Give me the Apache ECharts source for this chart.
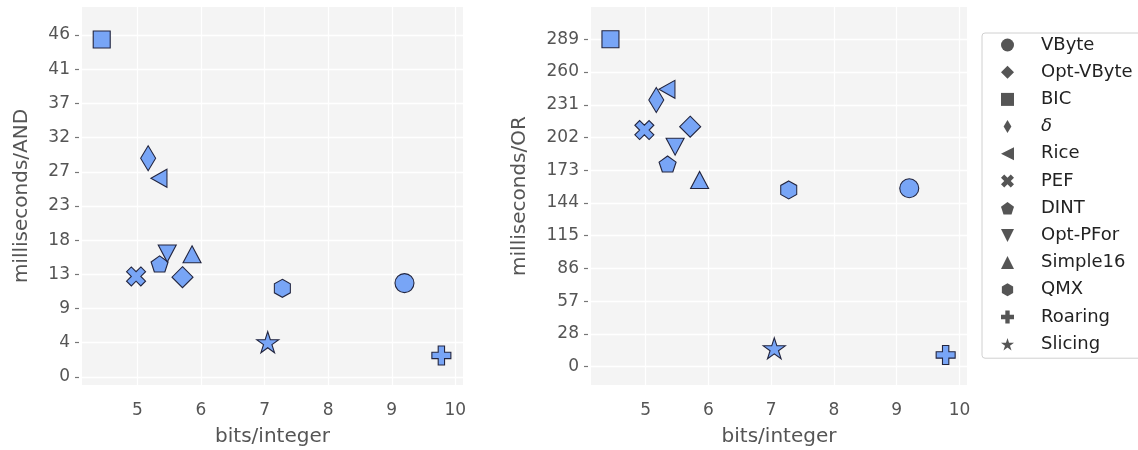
<!DOCTYPE html>
<html>
<head>
<meta charset="utf-8">
<script src="https://cdn.jsdelivr.net/npm/echarts@6/dist/echarts.min.js"></script>
<style>
  html, body { margin: 0; padding: 0; background: #fff; }
  #chart { width: 1138px; height: 450px; }
</style>
</head>
<body>
<div id="chart"></div>
<script>
// data
const methods = ['VByte', 'Opt-VByte', 'BIC', 'δ', 'Rice', 'PEF', 'DINT', 'Opt-PFor', 'Simple16', 'QMX', 'Roaring', 'Slicing']
const bitsPerInt = [9.2, 5.71, 4.44, 5.17, 5.34, 4.98, 5.35, 5.47, 5.86, 7.28, 9.78, 7.05]
const msAnd = [12.7, 13.5, 45.7, 29.6, 26.9, 13.6, 15.3, 16.7, 16.6, 12.0, 2.9, 4.7]
const msOr = [157.5, 211.8, 289, 235.4, 244.8, 208.9, 178.9, 194.2, 164.8, 156, 10.3, 16.2]

// ticks
const xTicks = [5, 6, 7, 8, 9, 10]
const andTicks = [0, 4.63, 9.26, 13.89, 18.52, 23.15, 27.78, 32.41, 37.04, 41.67, 46.3]
const andTickLabels = ['0', '4', '9', '13', '18', '23', '27', '32', '37', '41', '46']
const orTicks = [0, 28.9, 57.8, 86.7, 115.6, 144.5, 173.4, 202.3, 231.2, 260.1, 289]
const orTickLabels = ['0', '28', '57', '86', '115', '144', '173', '202', '231', '260', '289']

// marker shapes (style only)
const shapes = {
    'VByte': { symbol: 'circle', size: 19 },
    'Opt-VByte': { symbol: 'diamond', size: [21, 21] },
    'BIC': { symbol: 'rect', size: 17 },
    'δ': { symbol: 'path://M30,0 L60,50 L30,100 L0,50 Z', size: [15, 25] },
    'Rice': { symbol: 'path://M0,50 L100,0 L100,100 Z', size: [16, 18] },
    'PEF': { symbol: 'path://M73.6,2.9 L97.1,26.4 L73.6,50 L97.1,73.6 L73.6,97.1 L50,73.6 L26.4,97.1 L2.9,73.6 L26.4,50 L2.9,26.4 L26.4,2.9 L50,26.4 Z', size: 19 },
    'DINT': { symbol: 'path://M50,0 L97.6,34.5 L79.4,90.5 L20.6,90.5 L2.4,34.5 Z', size: [17, 16] },
    'Opt-PFor': { symbol: 'path://M0,0 L100,0 L50,100 Z', size: [18, 17] },
    'Simple16': { symbol: 'triangle', size: [18, 17] },
    'QMX': { symbol: 'path://M50,0 L93.3,25 L93.3,75 L50,100 L6.7,75 L6.7,25 Z', size: [16, 18] },
    'Roaring': { symbol: 'path://M33.3,0 H66.7 V33.3 H100 V66.7 H66.7 V100 H33.3 V66.7 H0 V33.3 H33.3 Z', size: 19 },
    'Slicing': { symbol: 'path://M50,0 L61.2,34.5 L97.6,34.5 L68.2,55.9 L79.4,90.5 L50,69.1 L20.6,90.5 L31.8,55.9 L2.4,34.5 L38.8,34.5 Z', size: [22, 21] }
}

const font = 'DejaVu Sans'
const tickGray = '#555'

// white grid lines drawn under the markers
function gridLines(yTicks, gridIdx) {
    return {
        type: 'scatter',
        xAxisIndex: gridIdx,
        yAxisIndex: gridIdx,
        data: [],
        z: 1,
        silent: true,
        markLine: {
            silent: true,
            z: 1,
            symbol: 'none',
            label: { show: false },
            lineStyle: { color: '#ffffff', width: 1.3, type: 'solid' },
            emphasis: { disabled: true },
            data: yTicks.map(v => ({ yAxis: v })).concat(xTicks.map(v => ({ xAxis: v })))
        }
    }
}

function xAxisFor(gridIdx) {
    return {
        type: 'value',
        gridIndex: gridIdx,
        min: 4.13,
        max: 10.12,
        name: 'bits/integer',
        nameLocation: 'middle',
        nameGap: 39,
        nameTextStyle: { fontFamily: font, fontSize: 20, color: tickGray },
        offset: 3,
        axisLine: { show: false },
        axisTick: { show: true, length: 5, customValues: xTicks, lineStyle: { color: '#777', width: 1 } },
        axisLabel: { customValues: xTicks, margin: 14, fontFamily: font, fontSize: 17, color: tickGray },
        splitLine: { show: false }
    }
}

function yAxisFor(gridIdx, min, max, ticks, labels, name, gap) {
    return {
        type: 'value',
        gridIndex: gridIdx,
        min: min,
        max: max,
        name: name,
        nameLocation: 'middle',
        nameGap: gap,
        nameTextStyle: { fontFamily: font, fontSize: 20, color: tickGray },
        offset: 3,
        axisLine: { show: false },
        axisTick: { show: true, length: 4, customValues: ticks, lineStyle: { color: '#777', width: 1.2 } },
        axisLabel: {
            customValues: ticks,
            margin: 9,
            fontFamily: font,
            fontSize: 17,
            color: tickGray,
            formatter: v => {
                const i = ticks.findIndex(t => Math.abs(t - v) < 1e-6)
                return i >= 0 ? labels[i] : ''
            }
        },
        splitLine: { show: false }
    }
}

const series = [gridLines(andTicks, 0), gridLines(orTicks, 1)]
const panels = [msAnd, msOr]
panels.forEach((values, gridIdx) => {
    methods.forEach((m, i) => {
        const s = shapes[m]
        series.push({
            name: m,
            type: 'scatter',
            xAxisIndex: gridIdx,
            yAxisIndex: gridIdx,
            z: 3,
            symbol: s.symbol,
            symbolSize: s.size,
            itemStyle: { color: '#78a5f6', borderColor: '#22253f', borderWidth: 1.1, opacity: 1 },
            data: [[bitsPerInt[i], values[i]]]
        })
    })
})

const chart = echarts.init(document.getElementById('chart'))
chart.setOption({
    animation: false,
    grid: [
        { left: 82, top: 7, width: 381, height: 378, outerBoundsMode: 'none', show: true, backgroundColor: '#f4f4f4', borderWidth: 0 },
        { left: 591, top: 7, width: 376, height: 378, outerBoundsMode: 'none', show: true, backgroundColor: '#f4f4f4', borderWidth: 0 }
    ],
    xAxis: [xAxisFor(0), xAxisFor(1)],
    yAxis: [
        yAxisFor(0, -1.1, 50.1, andTicks, andTickLabels, 'milliseconds/AND', 47),
        yAxisFor(1, -16.2, 317.5, orTicks, orTickLabels, 'milliseconds/OR', 58)
    ],
    legend: {
        data: methods,
        orient: 'vertical',
        left: 982,
        top: 33,
        padding: [3, 30, 5, 19],
        itemWidth: 13,
        itemHeight: 13,
        itemGap: 9.2,
        backgroundColor: '#fff',
        borderColor: '#d0d0d0',
        borderWidth: 1,
        borderRadius: 3,
        itemStyle: { color: '#555', borderWidth: 0 },
        textStyle: {
            fontFamily: font,
            fontSize: 18,
            color: '#222',
            padding: [0, 0, 0, 22],
            rich: { i: { fontStyle: 'italic', fontFamily: font, fontSize: 18, color: '#222' } }
        },
        formatter: name => name === 'δ' ? '{i|δ}' : name
    },
    series: series
})
</script>
</body>
</html>
